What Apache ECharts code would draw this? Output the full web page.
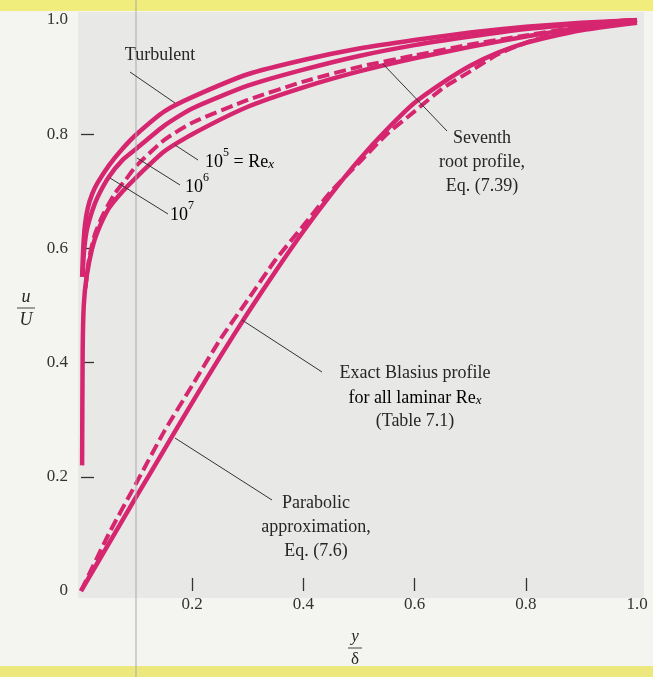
<!DOCTYPE html>
<html><head><meta charset="utf-8">
<script src="https://cdn.jsdelivr.net/npm/echarts@6/dist/echarts.min.js"></script>
<style>html,body{margin:0;padding:0;background:#f4f4f1;}#c{width:653px;height:677px;}</style>
</head><body><div id="c"></div>
<script>
// ---- data ----
const xTickValues = [0.2, 0.4, 0.6, 0.8];
const xLabelValues = [0.2, 0.4, 0.6, 0.8, 1.0];
const yTickValues = [0.2, 0.4, 0.6, 0.8];
const yLabelValues = [0, 0.2, 0.4, 0.6, 0.8, 1.0];

// Exact Blasius profile (solid)
const blasiusX = [0, 0.05, 0.1, 0.15, 0.2, 0.25, 0.3, 0.35, 0.4, 0.45, 0.5, 0.55, 0.6, 0.65, 0.7, 0.75, 0.8, 0.85, 0.9, 0.95, 1.0];
const blasiusU = [0, 0.083, 0.166, 0.248, 0.33, 0.41, 0.487, 0.56, 0.63, 0.695, 0.755, 0.808, 0.855, 0.89, 0.92, 0.943, 0.96, 0.972, 0.982, 0.989, 0.995];
// Parabolic approximation (dashed)
const paraX = [0, 0.05, 0.1, 0.15, 0.2, 0.25, 0.3, 0.35, 0.4, 0.45, 0.5, 0.55, 0.6, 0.65, 0.7, 0.75, 0.8, 0.85, 0.9, 0.95, 1.0];
const paraU = [0, 0.10, 0.19, 0.28, 0.36, 0.44, 0.51, 0.58, 0.64, 0.70, 0.75, 0.80, 0.84, 0.88, 0.91, 0.94, 0.96, 0.975, 0.99, 0.997, 1.0];
// Turbulent, Re_x = 1e7 (outer solid)
const re7X = [0.002, 0.004, 0.007, 0.012, 0.02, 0.03, 0.05, 0.075, 0.1, 0.15, 0.2, 0.3, 0.4, 0.5, 0.6, 0.7, 0.8, 0.9, 1.0];
const re7U = [0.55, 0.60, 0.64, 0.67, 0.695, 0.715, 0.745, 0.775, 0.80, 0.84, 0.865, 0.905, 0.93, 0.95, 0.965, 0.978, 0.988, 0.995, 1.0];
// Turbulent, Re_x = 1e6
const re6X = [0.003, 0.005, 0.01, 0.02, 0.03, 0.05, 0.075, 0.1, 0.15, 0.2, 0.3, 0.4, 0.5, 0.6, 0.7, 0.8, 0.9, 1.0];
const re6U = [0.55, 0.59, 0.63, 0.665, 0.69, 0.725, 0.755, 0.775, 0.815, 0.845, 0.885, 0.913, 0.937, 0.956, 0.971, 0.984, 0.993, 1.0];
// Turbulent, Re_x = 1e5 (inner solid, down to wall)
const re5X = [0.002, 0.003, 0.005, 0.01, 0.02, 0.03, 0.05, 0.075, 0.1, 0.15, 0.2, 0.3, 0.4, 0.5, 0.6, 0.7, 0.8, 0.9, 1.0];
const re5U = [0.22, 0.42, 0.50, 0.55, 0.60, 0.63, 0.67, 0.70, 0.725, 0.77, 0.80, 0.848, 0.882, 0.91, 0.933, 0.953, 0.971, 0.987, 1.0];
// Seventh-root profile (dashed)
const seventhX = [0.008, 0.015, 0.025, 0.04, 0.06, 0.08, 0.1, 0.15, 0.2, 0.3, 0.4, 0.5, 0.6, 0.7, 0.8, 0.9, 1.0];
const seventhU = [0.53, 0.585, 0.625, 0.66, 0.695, 0.72, 0.745, 0.79, 0.82, 0.86, 0.892, 0.918, 0.938, 0.957, 0.973, 0.988, 1.0];

const zip = (xs, ys) => xs.map((x, i) => [x, ys[i]]);

const C = '#d6266f';
const SERIF = '"Liberation Serif", "DejaVu Serif", serif';
const TXT = '#262626';

function curve(name, xs, ys, dashed) {
  return {
    name, type: 'line', data: zip(xs, ys), showSymbol: false, smooth: 0.2,
    lineStyle: { color: C, width: dashed ? 4 : 4.5, type: dashed ? [12, 5] : 'solid', cap: 'butt', join: 'round' },
    silent: true, animation: false
  };
}

const rich = {
  b: { fontFamily: SERIF, fontSize: 18, color: TXT, lineHeight: 24, verticalAlign: 'bottom' },
  s: { fontFamily: SERIF, fontSize: 12, color: TXT, lineHeight: 10, verticalAlign: 'top' },
  i: { fontFamily: SERIF, fontSize: 13, fontStyle: 'italic', color: TXT, lineHeight: 10, verticalAlign: 'bottom' }
};

function txt(x, y, text, align) {
  return { type: 'text', x, y, z: 50,
    style: { text, fontFamily: SERIF, fontSize: 18, fill: TXT, align: align || 'center', verticalAlign: 'middle' } };
}
function richTxt(x, y, text, align) {
  return { type: 'text', x, y, z: 50,
    style: { text, rich, align: align || 'left', verticalAlign: 'middle' } };
}
function ptr(x1, y1, x2, y2) {
  return { type: 'line', z: 40, shape: { x1, y1, x2, y2 }, style: { stroke: '#333', lineWidth: 1 } };
}

const chart = echarts.init(document.getElementById('c'), null, { renderer: 'canvas' });
chart.setOption({
  backgroundColor: '#f4f4f1',
  animation: false,
  grid: { left: 81, right: 16, top: 20, bottom: 86, containLabel: false },
  xAxis: {
    type: 'value', min: 0, max: 1, interval: 0.2,
    axisLine: { show: false }, splitLine: { show: false },
    axisTick: { show: true, inside: true, length: 13, customValues: xTickValues, lineStyle: { color: '#333', width: 1.3 } },
    axisLabel: { customValues: xLabelValues, formatter: v => v.toFixed(1), fontFamily: SERIF, fontSize: 17, color: '#333', margin: 5 }
  },
  yAxis: {
    type: 'value', min: 0, max: 1, interval: 0.2,
    axisLine: { show: false }, splitLine: { show: false },
    axisTick: { show: true, inside: true, length: 13, customValues: yTickValues, lineStyle: { color: '#333', width: 1.3 } },
    axisLabel: { customValues: yLabelValues, formatter: v => v === 0 ? '0' : v.toFixed(1), fontFamily: SERIF, fontSize: 17, color: '#333', margin: 13 }
  },
  graphic: [
    { type: 'rect', z: -10, shape: { x: 0, y: 0, width: 653, height: 11 }, style: { fill: '#f1ed7c' } },
    { type: 'rect', z: -10, shape: { x: 0, y: 666, width: 653, height: 11 }, style: { fill: '#ece87e' } },
    { type: 'rect', z: -10, shape: { x: 78, y: 12, width: 566, height: 586 }, style: { fill: '#e8e8e7' } },
    { type: 'line', z: 30, shape: { x1: 136, y1: 0, x2: 136, y2: 677 }, style: { stroke: '#a9a9a9', lineWidth: 1 } },
    ptr(130, 72, 175, 103),
    ptr(198, 160, 175, 145),
    ptr(180, 185, 137, 158),
    ptr(168, 214, 110, 178),
    ptr(447, 131, 383, 64),
    ptr(322, 372, 242, 320),
    ptr(272, 500, 175, 438),
    txt(160, 55, 'Turbulent'),
    richTxt(205, 159, '{b|10}{s|5}{b| = Re}{i|x}'),
    richTxt(185, 184, '{b|10}{s|6}'),
    richTxt(170, 212, '{b|10}{s|7}'),
    txt(482, 138, 'Seventh'),
    txt(482, 162, 'root profile,'),
    txt(482, 186, 'Eq. (7.39)'),
    txt(415, 373, 'Exact Blasius profile'),
    richTxt(415, 395, '{b|for all laminar Re}{i|x}', 'center'),
    txt(415, 421, '(Table 7.1)'),
    txt(316, 503, 'Parabolic'),
    txt(316, 527, 'approximation,'),
    txt(316, 551, 'Eq. (7.6)'),
    { type: 'text', x: 355, y: 637, z: 50, style: { text: 'y', fontFamily: SERIF, fontSize: 17, fontStyle: 'italic', fill: TXT, align: 'center', verticalAlign: 'middle' } },
    { type: 'line', z: 50, shape: { x1: 348, y1: 648, x2: 362, y2: 648 }, style: { stroke: '#444', lineWidth: 1 } },
    { type: 'text', x: 355, y: 660, z: 50, style: { text: 'δ', fontFamily: SERIF, fontSize: 17, fill: TXT, align: 'center', verticalAlign: 'middle' } },
    { type: 'text', x: 26, y: 297, z: 50, style: { text: 'u', fontFamily: SERIF, fontSize: 18, fontStyle: 'italic', fill: TXT, align: 'center', verticalAlign: 'middle' } },
    { type: 'line', z: 50, shape: { x1: 17, y1: 308, x2: 35, y2: 308 }, style: { stroke: '#444', lineWidth: 1 } },
    { type: 'text', x: 26, y: 320, z: 50, style: { text: 'U', fontFamily: SERIF, fontSize: 18, fontStyle: 'italic', fill: TXT, align: 'center', verticalAlign: 'middle' } }
  ],
  series: [
    curve('Exact Blasius profile', blasiusX, blasiusU, false),
    curve('Parabolic approximation', paraX, paraU, true),
    curve('Re 1e7', re7X, re7U, false),
    curve('Re 1e6', re6X, re6U, false),
    curve('Re 1e5', re5X, re5U, false),
    curve('Seventh root profile', seventhX, seventhU, true)
  ]
});
</script></body></html>
